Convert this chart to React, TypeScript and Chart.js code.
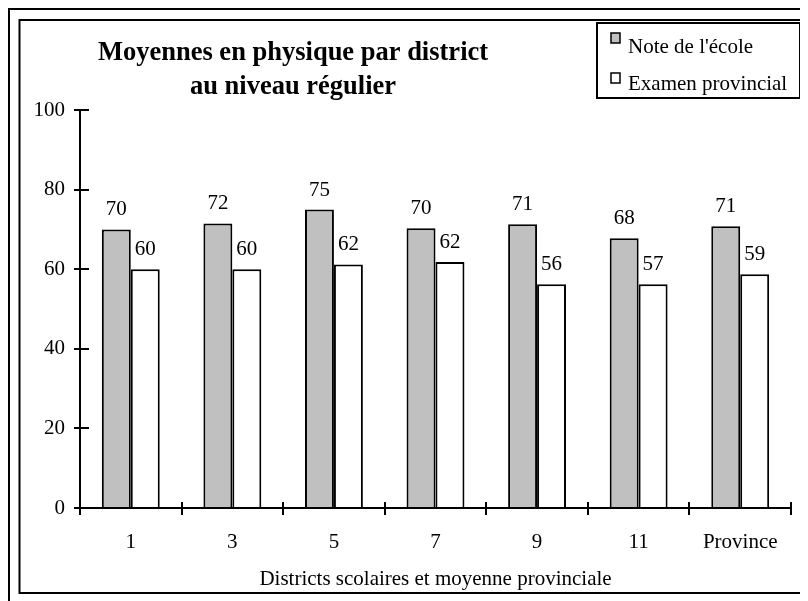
import React, { useEffect, useRef } from 'react';
import { Chart, registerables } from 'chart.js';

Chart.register(...registerables);

const categories = ['1', '3', '5', '7', '9', '11', 'Province'];
const schoolValues = [70, 71.5, 75, 70.3, 71.3, 67.8, 70.8];
const examValues = [60, 60, 61.2, 61.8, 56.2, 56.2, 58.7];
const schoolLabels = ['70', '72', '75', '70', '71', '68', '71'];
const examLabels = ['60', '60', '62', '62', '56', '57', '59'];
const seriesNames = ["Note de l'école", 'Examen provincial'];
const seriesColors = ['#c0c0c0', '#ffffff'];
const titleLines = ['Moyennes en physique par district', 'au niveau régulier'];
const xTitle = 'Districts scolaires et moyenne provinciale';
const yMin = 0;
const yMax = 100;
const yStep = 20;

const FAMILY = '"Liberation Serif", "Times New Roman", serif';
const valueLabels = [schoolLabels, examLabels];

const decorPlugin = {
  id: 'decor',
  beforeDraw(chart: any) {
    const ctx = chart.ctx;
    ctx.save();
    ctx.fillStyle = '#fff';
    ctx.fillRect(0, 0, chart.width, chart.height);
    ctx.strokeStyle = '#000';
    ctx.lineWidth = 2;
    ctx.strokeRect(1, 1, chart.width + 20, chart.height + 20);
    ctx.strokeRect(11.5, 12, 786.5, 573);
    ctx.restore();
  },
  afterDatasetsDraw(chart: any) {
    const ctx = chart.ctx;
    ctx.save();
    ctx.fillStyle = '#000';
    ctx.font = `21px ${FAMILY}`;
    ctx.textAlign = 'center';
    ctx.textBaseline = 'alphabetic';
    chart.data.datasets.forEach((ds: any, di: number) => {
      const meta = chart.getDatasetMeta(di);
      meta.data.forEach((bar: any, i: number) => {
        ctx.fillText(valueLabels[di][i], bar.x, bar.y - 14);
      });
    });
    ctx.restore();
  },
  afterDraw(chart: any) {
    const ctx = chart.ctx;
    const xs = chart.scales.x;
    const ys = chart.scales.y;
    ctx.save();
    ctx.strokeStyle = '#000';
    ctx.lineWidth = 2;
    // inner parts of tick marks
    ys.ticks.forEach((t: any) => {
      const py = Math.round(ys.getPixelForValue(t.value));
      ctx.beginPath();
      ctx.moveTo(ys.right, py);
      ctx.lineTo(ys.right + 9, py);
      ctx.stroke();
    });
    for (let i = 0; i <= categories.length; i++) {
      const px = Math.round(xs.getPixelForValue(i - 0.5));
      ctx.beginPath();
      ctx.moveTo(px, xs.top);
      ctx.lineTo(px, xs.top - 6);
      ctx.stroke();
    }
    // title
    ctx.fillStyle = '#000';
    ctx.font = `bold 26.5px ${FAMILY}`;
    ctx.textAlign = 'center';
    ctx.textBaseline = 'alphabetic';
    ctx.fillText(titleLines[0], 285, 52);
    ctx.fillText(titleLines[1], 285, 86);
    // legend
    ctx.lineWidth = 2;
    ctx.strokeRect(589, 15, 203, 75);
    ctx.font = `21px ${FAMILY}`;
    ctx.textAlign = 'left';
    chart.data.datasets.forEach((ds: any, di: number) => {
      const sy = 25 + di * 40;
      ctx.fillStyle = ds.backgroundColor;
      ctx.fillRect(603, sy, 9, 10);
      ctx.lineWidth = 1.5;
      ctx.strokeRect(603, sy, 9, 10);
      ctx.fillStyle = '#000';
      ctx.fillText(ds.label, 620, 45 + di * 37);
    });
    ctx.restore();
  },
};

export default function App() {
  const ref = useRef<HTMLCanvasElement | null>(null);
  useEffect(() => {
    document.documentElement.style.overflow = 'hidden';
    if (!ref.current) return;
    const font = { family: FAMILY, size: 21 };
    const chart = new Chart(ref.current, {
      type: 'bar',
      data: {
        labels: categories,
        datasets: [
          {
            label: seriesNames[0],
            data: schoolValues,
            backgroundColor: seriesColors[0],
            borderColor: '#000',
            borderWidth: 2,
            categoryPercentage: 0.57,
            barPercentage: 1,
          },
          {
            label: seriesNames[1],
            data: examValues,
            backgroundColor: seriesColors[1],
            borderColor: '#000',
            borderWidth: 2,
            categoryPercentage: 0.57,
            barPercentage: 1,
          },
        ],
      },
      options: {
        responsive: false,
        animation: false,
        devicePixelRatio: 1,
        layout: { padding: { left: 0, top: 102, right: 17, bottom: 0 } },
        plugins: {
          legend: { display: false },
          title: { display: false },
          tooltip: { enabled: false },
        },
        scales: {
          x: {
            grid: {
              display: true,
              drawOnChartArea: false,
              drawTicks: true,
              tickLength: 7,
              color: '#000',
              lineWidth: 2,
              offset: true,
            },
            border: { display: true, color: '#000', width: 2 },
            ticks: { color: '#000', font, padding: 15, maxRotation: 0, autoSkip: false },
            title: {
              display: true,
              text: xTitle,
              color: '#000',
              font,
              padding: { top: 0, bottom: 9 },
            },
            afterFit: (s: any) => {
              s.height = 93;
            },
          },
          y: {
            min: yMin,
            max: yMax,
            ticks: { stepSize: yStep, color: '#000', font, padding: 9 },
            grid: {
              display: true,
              drawOnChartArea: false,
              drawTicks: true,
              tickLength: 6,
              color: '#000',
              lineWidth: 2,
            },
            border: { display: true, color: '#000', width: 2 },
            afterFit: (s: any) => {
              s.width = 72;
            },
          },
        },
      } as any,
      plugins: [decorPlugin],
    });
    return () => chart.destroy();
  }, []);
  return (
    <div style={{ width: 800, height: 593 }}>
      <canvas ref={ref} width={800} height={593} style={{ display: 'block' }} />
    </div>
  );
}
